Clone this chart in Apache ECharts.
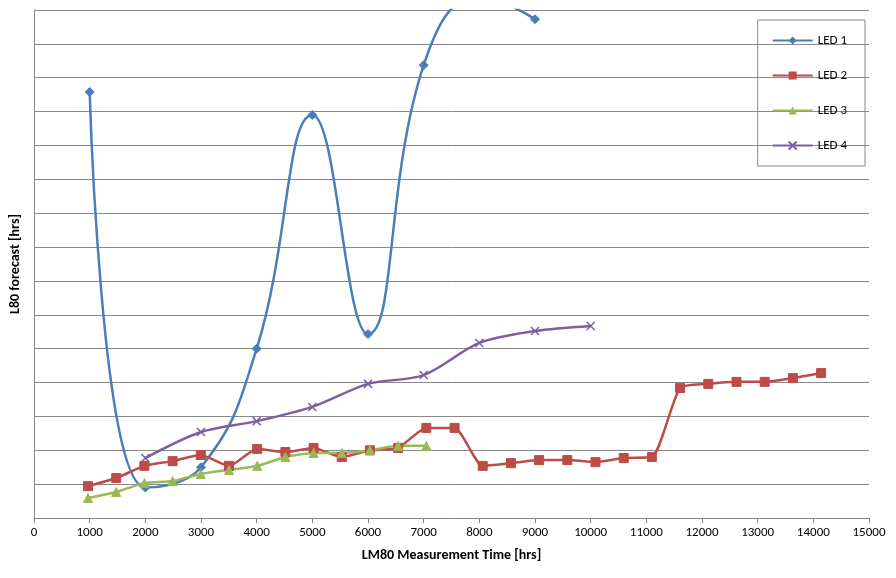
<!DOCTYPE html><html><head><meta charset="utf-8"><script src="https://cdn.jsdelivr.net/npm/echarts@6/dist/echarts.min.js"></script></head><body style="margin:0"><div id="c" style="width:896px;height:578px"></div><script>
const xTicks=[0,1000,2000,3000,4000,5000,6000,7000,8000,9000,10000,11000,12000,13000,14000,15000];
const led1=[[1000,12.58],[2000,0.9],[3000,1.5],[4000,5.0],[5000,11.9],[6000,5.43],[7000,13.37],[8000,15.4],[9000,14.73]];
const led2=[[970,0.94],[1477,1.18],[1983,1.54],[2490,1.68],[2996,1.86],[3503,1.54],[4009,2.04],[4516,1.95],[5022,2.07],[5529,1.8],[6035,2.0],[6542,2.07],[7048,2.66],[7555,2.66],[8061,1.54],[8568,1.62],[9074,1.71],[9581,1.71],[10087,1.65],[10594,1.77],[11100,1.8],[11607,3.84],[12113,3.96],[12620,4.02],[13126,4.02],[13633,4.13],[14139,4.28]];
const led3=[[970,0.59],[1477,0.77],[1983,1.03],[2490,1.09],[2996,1.3],[3503,1.42],[4009,1.54],[4516,1.8],[5022,1.92],[5529,1.92],[6035,2.0],[6542,2.13],[7048,2.13]];
const led4=[[2000,1.77],[3000,2.54],[4000,2.86],[5000,3.28],[6000,3.96],[7000,4.22],[8000,5.17],[9000,5.52],[10000,5.67]];
const f='Calibri, Carlito, "Liberation Sans", sans-serif';
const mk=(name,data,color,symbol,size,smooth)=>({name,type:'line',data,smooth:smooth,symbol,symbolSize:size,clip:true,
 lineStyle:{color,width:2.5},itemStyle:{color,borderColor:color}});
echarts.init(document.getElementById('c')).setOption({
 animation:false,
 grid:{left:28,right:27,top:10,bottom:60,containLabel:false},
 xAxis:{type:'value',min:0,max:15000,interval:1000,axisLine:{lineStyle:{color:'#888'}},axisTick:{show:true,lineStyle:{color:'#888'}},splitLine:{show:false},
  axisLabel:{color:'#000',fontSize:13,fontFamily:f,formatter:v=>String(v)},name:'LM80 Measurement Time [hrs]',nameLocation:'middle',nameGap:30,
  nameTextStyle:{fontWeight:'bold',fontSize:14,fontFamily:f,color:'#000'}},
 yAxis:{type:'value',min:0,max:15,interval:1,axisLabel:{show:false},axisLine:{show:true,lineStyle:{color:'#888'}},axisTick:{show:false},
  splitLine:{lineStyle:{color:'#888'}},name:'L80 forecast [hrs]',nameLocation:'middle',nameGap:12,
  nameTextStyle:{fontWeight:'bold',fontSize:14,fontFamily:f,color:'#000'}},
 legend:{orient:'vertical',right:31,top:20,itemGap:22,itemWidth:40,itemHeight:10,padding:[14,18,14,14],
  borderColor:'#888',borderWidth:1,textStyle:{fontSize:13,fontFamily:f,color:'#000'}},
 series:[mk('LED 1',led1,'#4a7ebb','diamond',9,0.45),mk('LED 2',led2,'#be4b48','rect',9,0.2),
  mk('LED 3',led3,'#98b954','triangle',9,0.2),
  {...mk('LED 4',led4,'#7d5fa0','path://M0,0L10,10M10,0L0,10',8,0.3),itemStyle:{color:'none',borderColor:'#7d5fa0',borderWidth:1.5}}]
});
</script></body></html>
